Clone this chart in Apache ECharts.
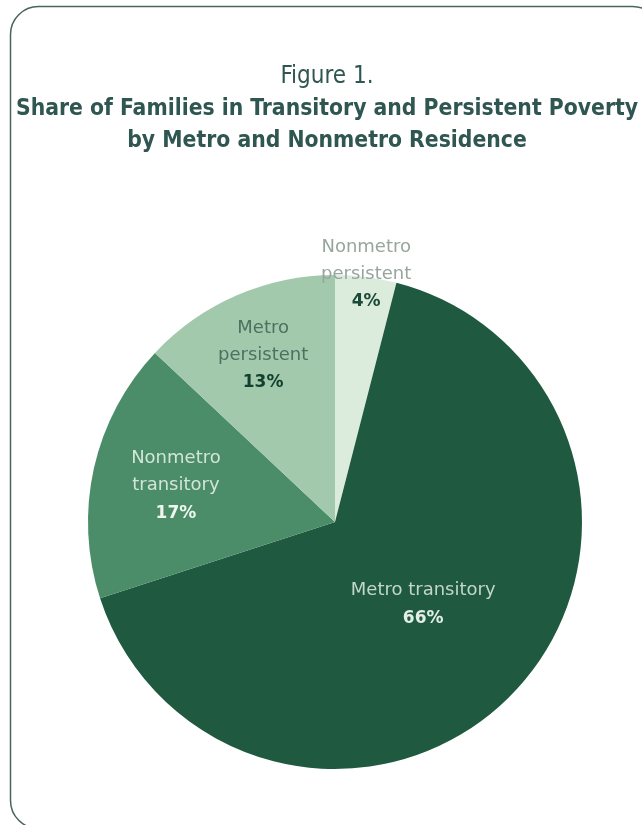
<!DOCTYPE html>
<html><head><meta charset="utf-8">
<script src="https://cdn.jsdelivr.net/npm/echarts@6/dist/echarts.min.js"></script>
<style>html,body{margin:0;padding:0;background:#fff}#c{width:642px;height:825px}</style>
</head><body><div id="c"></div>
<script>
const categories = ['Nonmetro persistent', 'Metro transitory', 'Nonmetro transitory', 'Metro persistent'];
const labelNames = ['Nonmetro\npersistent', 'Metro transitory', 'Nonmetro\ntransitory', 'Metro\npersistent'];
const values = [4, 66, 17, 13];
const colors = ['#dcecdc', '#1f5a40', '#4a8d68', '#a3c9ad'];
const textColors = ['#97a69d', '#c3d6ca', '#d3e5d8', '#4a7262'];
const pctColors = ['#1c4a3a', '#e2eee6', '#eef6ef', '#12402f'];
const labelRadius = [246, 118, 160, 178];

const center = [335, 522];
const R = 247;

const chart = echarts.init(document.getElementById('c'), null, {renderer: 'canvas'});

const baseData = categories.map((c, i) => ({name: c, value: values[i], itemStyle: {color: colors[i]}}));

const labelSeries = categories.map((c, k) => ({
  type: 'pie',
  silent: true,
  startAngle: 90,
  clockwise: true,
  center: center,
  radius: [0, labelRadius[k] * 2],
  z: 5,
  emphasis: {disabled: true},
  labelLine: {show: false},
  data: categories.map((cc, i) => ({
    name: cc, value: values[i],
    itemStyle: {color: 'rgba(0,0,0,0)'},
    label: {
      show: i === k,
      position: 'inside',
      formatter: '{t|' + labelNames[i].split('\n').join('}\n{t|') + '}\n{p|' + values[i] + '%}',
      rich: {
        t: {fontFamily: 'DejaVu Sans', fontSize: 18, color: textColors[i], lineHeight: 27},
        p: {fontFamily: 'DejaVu Sans', fontSize: 17, fontWeight: 'bold', color: pctColors[i], lineHeight: 29}
      }
    }
  }))
}));

chart.setOption({
  animation: false,
  backgroundColor: '#fff',
  graphic: [{
    type: 'rect',
    shape: {x: 10.5, y: 6.5, width: 650, height: 822, r: 28},
    style: {fill: 'none', stroke: '#48645f', lineWidth: 1.5},
    z: 0
  }],
  title: {
    left: 322,
    textAlign: 'center',
    top: 56,
    text: '{a|Figure 1.}\n{b|Share of Families in Transitory and Persistent Poverty}\n{b|by Metro and Nonmetro Residence}',
    textStyle: {
      rich: {
        a: {fontFamily: 'DejaVu Sans Condensed', fontSize: 24, fontWeight: 'normal', color: '#2f5650', lineHeight: 32},
        b: {fontFamily: 'DejaVu Sans Condensed', fontSize: 22.7, fontWeight: 'bold', color: '#2f5650', lineHeight: 32}
      }
    }
  },
  series: [{
    type: 'pie',
    startAngle: 90,
    clockwise: true,
    center: center,
    radius: [0, R],
    silent: true,
    label: {show: false},
    labelLine: {show: false},
    itemStyle: {borderWidth: 0},
    data: baseData
  }].concat(labelSeries)
});
</script></body></html>
